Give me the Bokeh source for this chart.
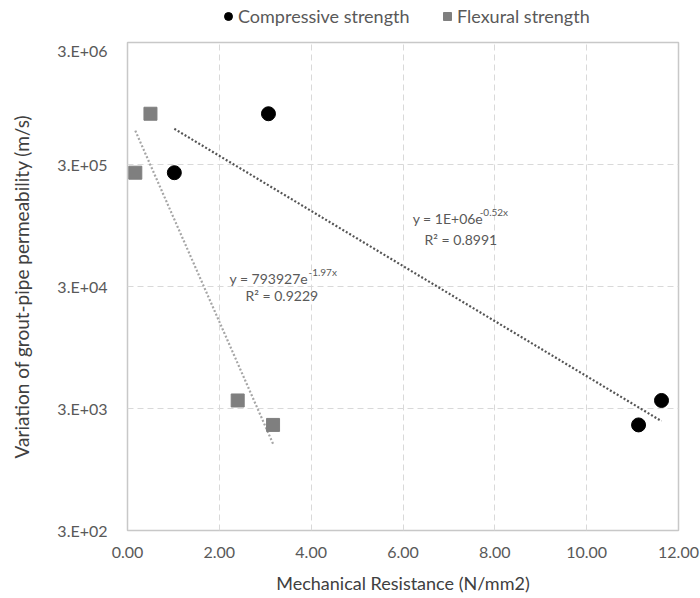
import numpy as np
from bokeh.plotting import figure
from bokeh.layouts import column
from bokeh.models import FixedTicker, Legend, LegendItem, Label, Range1d
from bokeh.embed import file_html
from bokeh.resources import INLINE

# ---- data ----
comp_x = [1.02, 3.07, 11.13, 11.63]
comp_y = [2.57e5, 7.82e5, 2.2e3, 3.49e3]
flex_x = [0.17, 0.50, 2.40, 3.17]
flex_y = [2.57e5, 7.82e5, 3.49e3, 2.2e3]

# trendline equations as printed on the chart
comp_a, comp_b = 1e6, -0.52
flex_a, flex_b = 793927.0, -1.97

series_names = ["Compressive strength", "Flexural strength"]

x_ticks = [0, 2, 4, 6, 8, 10, 12]
x_tick_labels = ["0.00", "2.00", "4.00", "6.00", "8.00", "10.00", "12.00"]
y_ticks = [3e2, 3e3, 3e4, 3e5, 3e6]
y_tick_labels = ["3.E+02", "3.E+03", "3.E+04", "3.E+05", "3.E+06"]

FONT = "Lato"
TXT = "#595959"
COMP_STYLE = dict(marker="circle", fill_color="black", line_color="black")
FLEX_STYLE = dict(marker="square", fill_color="#7f7f7f", line_color="#7f7f7f")

p = figure(width=700, height=558, y_axis_type="log",
           x_range=(0, 12), y_range=(3e2, 3e6),
           output_backend="svg", toolbar_location=None,
           min_border_left=127, min_border_right=22,
           min_border_top=2, min_border_bottom=68)
p.background_fill_color = "white"
p.border_fill_color = "white"
p.outline_line_color = "#c8c8c8"
p.outline_line_width = 1.5

# axes
p.xaxis.ticker = FixedTicker(ticks=x_ticks)
p.xaxis.major_label_overrides = {t: l for t, l in zip(x_ticks, x_tick_labels)}
p.yaxis.ticker = FixedTicker(ticks=y_ticks)
p.yaxis.major_label_overrides = {t: l for t, l in zip(y_ticks, y_tick_labels)}
for ax in (p.xaxis, p.yaxis):
    ax.axis_line_color = None
    ax.major_tick_line_color = None
    ax.minor_tick_line_color = None
    ax.major_label_text_font = FONT
    ax.major_label_text_font_size = "16px"
    ax.major_label_text_color = TXT
    ax.axis_label_text_font = FONT
    ax.axis_label_text_font_style = "normal"
    ax.axis_label_text_color = "#404040"
p.xaxis.axis_label_text_font_size = "18px"
p.yaxis.axis_label_text_font_size = "19px"
p.xaxis.axis_label = "Mechanical Resistance (N/mm2)"
p.yaxis.axis_label = "Variation of grout-pipe permeability (m/s)"
p.xaxis.major_label_standoff = 10
p.yaxis.major_label_standoff = 14
p.xaxis.axis_label_standoff = 11
p.yaxis.axis_label_standoff = 21

# grid
for g in (p.xgrid, p.ygrid):
    g.grid_line_color = "#d9d9d9"
    g.grid_line_dash = "6 4"
    g.grid_line_width = 1

# trendlines
cx = np.linspace(min(comp_x), max(comp_x), 100)
fx = np.linspace(min(flex_x), max(flex_x), 100)
p.line(cx, comp_a * np.exp(comp_b * cx), line_color="#555555", line_width=2.2,
       line_dash="2 2")
p.line(fx, flex_a * np.exp(flex_b * fx), line_color="#a6a6a6", line_width=2.2,
       line_dash="2 2")

# scatter
p.scatter(comp_x, comp_y, size=14, **COMP_STYLE)
p.scatter(flex_x, flex_y, size=13, **FLEX_STYLE)

# equation labels
def eq(x, y, text, size="14px", dx=0, dy=0):
    p.add_layout(Label(x=x, y=y, text=text, text_font=FONT, text_font_size=size,
                       text_color=TXT, text_baseline="middle", x_offset=dx, y_offset=dy))

eq(2.22, 3.48e4, "y = 793927e")
eq(2.22, 3.48e4, "-1.97x", size="10px", dx=79, dy=7)
eq(2.57, 2.53e4, "R² = 0.9229")
eq(6.21, 1.08e5, "y = 1E+06e")
eq(6.21, 1.08e5, "-0.52x", size="10px", dx=67, dy=7)
eq(6.47, 7.26e4, "R² = 0.8991")

# ---- legend strip above the chart (its frame is aligned with the chart's) ----
lg = figure(width=700, height=40, x_range=Range1d(0, 1), y_range=Range1d(-1, 0),
            x_axis_location=None, y_axis_location=None,
            output_backend="svg", toolbar_location=None, min_border=0)
lg.outline_line_color = None
lg.grid.visible = False
lg.background_fill_color = "white"
lg.border_fill_color = "white"
# same series, out of this strip's view: only their legend swatches show
rc = lg.scatter(comp_x, comp_y, size=11, **COMP_STYLE)
rf = lg.scatter(flex_x, flex_y, size=10, **FLEX_STYLE)

def leg(r, name, x):
    lg.add_layout(Legend(items=[LegendItem(label=name, renderers=[r])],
                         location=(x, 13), orientation="horizontal",
                         label_text_font=FONT, label_text_font_size="18px",
                         label_text_color=TXT, background_fill_alpha=0,
                         border_line_color=None, glyph_width=20, glyph_height=20,
                         label_standoff=0, padding=0, margin=0, spacing=0),
                  "center")

leg(rc, series_names[0], 218 - 127)
leg(rf, series_names[1], 437 - 127)

open("out.html", "w").write(file_html(column(lg, p, spacing=0), INLINE))
